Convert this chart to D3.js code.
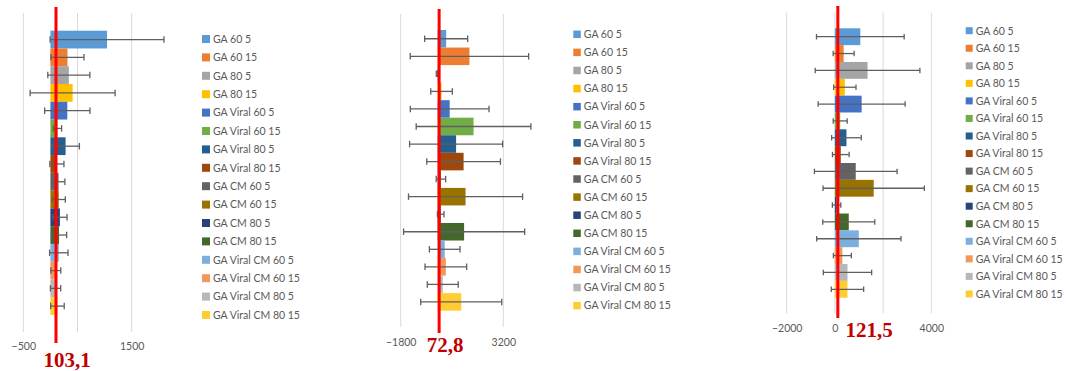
<!DOCTYPE html>
<html>
<head>
<meta charset="utf-8">
<script src="https://cdn.jsdelivr.net/npm/d3@7"></script>
<style>
  html, body { margin: 0; padding: 0; background: #fff; }
  svg { display: block; }
</style>
</head>
<body>
<svg id="chart" width="1069" height="371"></svg>
<script>
// ---------- DATA ----------
const seriesNames = [
  "GA 60 5", "GA 60 15", "GA 80 5", "GA 80 15",
  "GA Viral 60 5", "GA Viral 60 15", "GA Viral 80 5", "GA Viral 80 15",
  "GA CM 60 5", "GA CM 60 15", "GA CM 80 5", "GA CM 80 15",
  "GA Viral CM 60 5", "GA Viral CM 60 15", "GA Viral CM 80 5", "GA Viral CM 80 15"
];
const seriesColors = [
  "#5B9BD5", "#ED7D31", "#A5A5A5", "#FFC000",
  "#4472C4", "#70AD47", "#255E91", "#9E480E",
  "#636363", "#997300", "#264478", "#43682B",
  "#7CAFDD", "#F1975A", "#B7B7B7", "#FFCD33"
];

const valuesA = [1045, 315, 340, 410, 312, 130, 280, 120, 150, 155, 175, 160, 155, 100, 95, 130];
const errorsA = [1050, 305, 388, 784, 418, 77, 255, 130, 117, 120, 132, 140, 170, 92, 95, 125];
const gridA = [-500, 500, 1500];
const tickLabelsA = [-500, 1500];
const refA = 103.1;
const refLabelA = "103,1";

const valuesB = [415, 1550, -30, 190, 587, 1750, 900, 1265, 160, 1360, 150, 1290, 345, 400, 250, 1150];
const errorsB = [1048, 2885, 35, 526, 1918, 2795, 2267, 1795, 230, 2780, 160, 2950, 747, 1015, 755, 1975];
const gridB = [-1800, 3200];
const tickLabelsB = [-1800, 3200];
const refB = 72.8;
const refLabelB = "72,8";

const valuesC = [1055, 363, 1355, 412, 1110, 220, 480, 245, 865, 1610, 70, 575, 992, 310, 522, 522];
const errorsC = [1819, 435, 2172, 463, 1805, 290, 615, 346, 1715, 2102, 175, 1079, 1750, 373, 1003, 671];
const gridC = [-2000, 0, 2000, 4000];
const tickLabelsC = [-2000, 0, 4000];
const refC = 121.5;
const refLabelC = "121,5";

// ---------- LAYOUT ----------
const panels = [
  { values: valuesA, errors: errorsA, grid: gridA, ticks: tickLabelsA, ref: refA, refLabel: refLabelA,
    domain: [-500, 1500], xr: [23.3, 131.7], gridY: [13, 332], barY: [30.7, 315], tickY: 350,
    lineY: [7, 343], labelX: 67, labelY: 367, cap: 6.5,
    legX: 202, legY0: 39, legStep: 18.4, sq: 8 },
  { values: valuesB, errors: errorsB, grid: gridB, ticks: tickLabelsB, ref: refB, refLabel: refLabelB,
    domain: [-1800, 3200], xr: [400.7, 503.3], gridY: [14, 327], barY: [30, 310.7], tickY: 345.5,
    lineY: [9, 333], labelX: 445, labelY: 352, cap: 6.5,
    legX: 573.3, legY0: 34.3, legStep: 18.09, sq: 7.5 },
  { values: valuesC, errors: errorsC, grid: gridC, ticks: tickLabelsC, ref: refC, refLabel: refLabelC,
    domain: [-2000, 4000], xr: [786.7, 931.3], gridY: [12.7, 313.3], barY: [28.3, 297.7], tickY: 332,
    lineY: [6, 318], labelX: 869, labelY: 337, cap: 5.5,
    legX: 965.7, legY0: 30.7, legStep: 17.55, sq: 7 }
];

const svg = d3.select("#chart");
const textFont = "Lato, 'Open Sans', sans-serif";
const textColor = "#595959";

panels.forEach(p => {
  const g = svg.append("g");
  const x = d3.scaleLinear().domain(p.domain).range(p.xr);
  const y = d3.scaleBand().domain(seriesNames).range(p.barY).padding(0);
  const data = seriesNames.map((n, i) => ({ name: n, v: p.values[i], e: p.errors[i], c: seriesColors[i] }));

  // gridlines
  g.append("g").selectAll("line").data(p.grid).join("line")
    .attr("x1", d => x(d)).attr("x2", d => x(d))
    .attr("y1", p.gridY[0]).attr("y2", p.gridY[1])
    .attr("stroke", "#d9d9d9").attr("stroke-width", 1);

  // tick labels via axis
  const axis = d3.axisBottom(x).tickValues(p.ticks).tickSize(0).tickPadding(0).tickFormat(d3.format("d"));
  const ax = g.append("g").attr("transform", `translate(0,${p.tickY})`).call(axis);
  ax.select(".domain").remove();
  ax.selectAll("text").attr("dy", 0).attr("fill", textColor)
    .style("font-family", textFont).style("font-size", "10.5px");

  // bars
  g.append("g").selectAll("rect").data(data).join("rect")
    .attr("x", d => Math.min(x(0), x(d.v)))
    .attr("width", d => Math.abs(x(d.v) - x(0)))
    .attr("y", d => y(d.name))
    .attr("height", y.bandwidth())
    .attr("fill", d => d.c);

  // error bars
  const eb = g.append("g").attr("stroke", "#5f5f5f").attr("stroke-width", 1.3).attr("fill", "none");
  data.forEach(d => {
    const cy = y(d.name) + y.bandwidth() / 2;
    const x1 = x(d.v - d.e), x2 = x(d.v + d.e);
    eb.append("line").attr("x1", x1).attr("x2", x2).attr("y1", cy).attr("y2", cy);
    eb.append("line").attr("x1", x1).attr("x2", x1).attr("y1", cy - p.cap / 2).attr("y2", cy + p.cap / 2);
    eb.append("line").attr("x1", x2).attr("x2", x2).attr("y1", cy - p.cap / 2).attr("y2", cy + p.cap / 2);
  });

  // legend
  const lg = g.append("g");
  data.forEach((d, i) => {
    const cy = p.legY0 + i * p.legStep;
    lg.append("rect").attr("x", p.legX).attr("y", cy - p.sq / 2).attr("width", p.sq).attr("height", p.sq).attr("fill", d.c);
    lg.append("text").attr("x", p.legX + p.sq + 3).attr("y", cy + 3.8)
      .attr("fill", textColor).style("font-family", textFont).style("font-size", "10.5px")
      .text(d.name);
  });

  // reference line + label
  g.append("line").attr("x1", x(p.ref)).attr("x2", x(p.ref))
    .attr("y1", p.lineY[0]).attr("y2", p.lineY[1])
    .attr("stroke", "#ff0000").attr("stroke-width", 3);
  g.append("text").attr("x", p.labelX).attr("y", p.labelY)
    .attr("text-anchor", "middle").attr("fill", "#c00000")
    .style("font-family", "'Liberation Serif', 'Times New Roman', serif").style("font-size", "21px")
    .style("font-weight", "bold")
    .text(p.refLabel);
});
</script>
</body>
</html>
